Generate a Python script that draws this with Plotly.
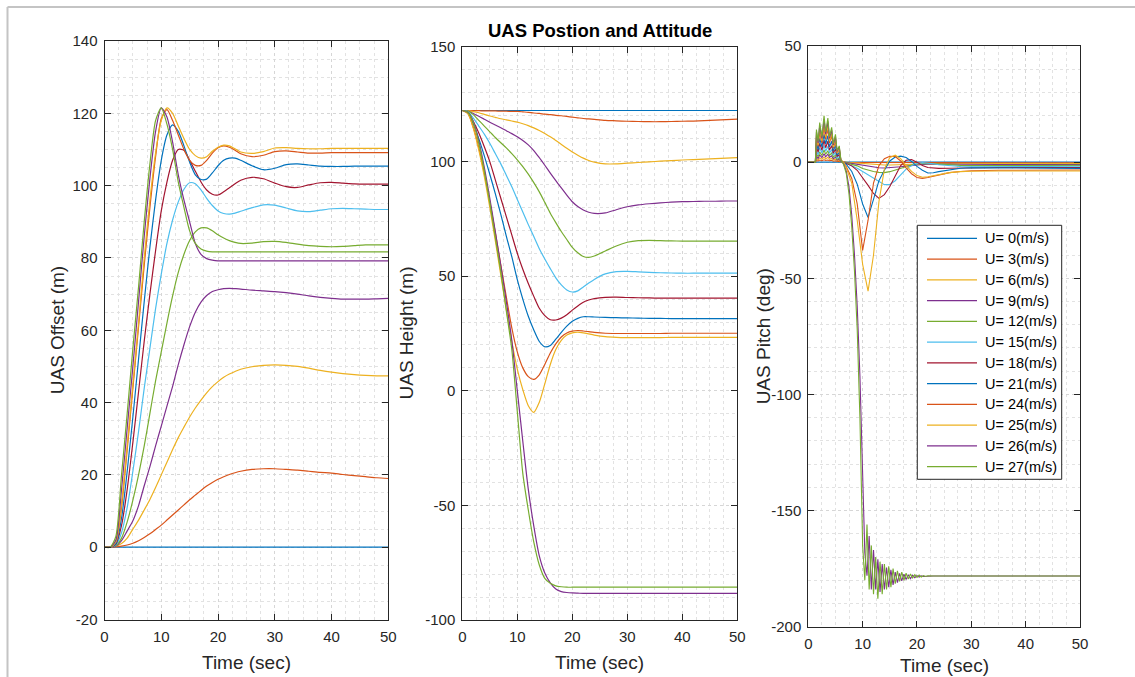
import plotly.graph_objects as go

# ---------------- data ----------------
LABELS = ["U= 0(m/s)", "U= 3(m/s)", "U= 6(m/s)", "U= 9(m/s)", "U= 12(m/s)", "U= 15(m/s)",
          "U= 18(m/s)", "U= 21(m/s)", "U= 24(m/s)", "U= 25(m/s)", "U= 26(m/s)", "U= 27(m/s)"]
COLORS = ["#0072BD", "#D95319", "#EDB120", "#7E2F8E", "#77AC30", "#4DBEEE",
          "#A2142F", "#0072BD", "#D95319", "#EDB120", "#7E2F8E", "#77AC30"]

# tick labels (hyphen minus as in the reference)
X_TICKS = [0, 10, 20, 30, 40, 50]
Y1_TICKS = [-20, 0, 20, 40, 60, 80, 100, 120, 140]
Y2_TICKS = [-100, -50, 0, 50, 100, 150]
Y3_TICKS = [-200, -150, -100, -50, 0, 50]

# time grid for offset / height
T1 = [0, 1, 2, 3, 4, 5, 6, 7, 8, 9, 10, 11, 12, 13, 14, 15, 16, 17, 18, 19, 20, 21, 22, 23, 24,
      26, 28, 30, 32, 34, 36, 38, 40, 42, 44, 46, 48, 50]

# UAS Offset (m)
off_u0 = [0] * 38
off_u3 = [0, 0, 0.1, 0.3, 0.6, 1.1, 1.8, 2.7, 3.7, 4.9, 6.1, 7.5, 8.9, 10.3, 11.7, 13.1, 14.4, 15.7, 16.9, 17.9,
          18.8, 19.5, 20.1, 20.6, 21.0, 21.5, 21.7, 21.7, 21.5, 21.3, 21.0, 20.7, 20.5, 20.1, 19.8, 19.5, 19.2, 19.0]
off_u6 = [0, 0, 0.3, 1.0, 2.5, 5.0, 7.5, 10.3, 13.2, 16.5, 20.0, 23.5, 27.0, 30.3, 33.2, 36.0, 38.5, 40.7, 42.7,
          44.4, 45.8, 47.0, 47.9, 48.6, 49.2, 49.9, 50.3, 50.4, 50.3, 50.0, 49.5, 48.9, 48.4, 48.0, 47.7, 47.5, 47.4, 47.4]
off_u9 = [0, 0, 0.3, 1.8, 4.5, 7.3, 11.5, 17.0, 22.3, 28.0, 33.5, 39.0, 44.5, 50.5, 56.0, 61.0, 65.0, 67.8, 69.6,
          70.7, 71.2, 71.5, 71.6, 71.5, 71.4, 71.1, 70.9, 70.7, 70.4, 70.0, 69.5, 69.1, 68.8, 68.6, 68.6, 68.6, 68.7, 68.8]
off_u12 = [0, 0, 0.4, 2.5, 7, 13, 20, 28, 37, 46, 54, 62, 69.5, 76, 81, 84.8, 87.2, 88.3, 88.3, 87.5, 86.4, 85.5,
           84.8, 84.3, 84.0, 84.1, 84.5, 84.6, 84.3, 83.8, 83.4, 83.2, 83.1, 83.2, 83.4, 83.6, 83.6, 83.6]
off_u15 = [0, 0, 0.6, 4, 11, 21, 32, 44, 55, 66, 75.5, 84, 90.5, 95.5, 99, 100.8, 100.5, 98.8, 96.5, 94.5, 93,
           92.3, 92.1, 92.4, 92.9, 93.9, 94.7, 94.6, 93.8, 93.0, 92.8, 93.2, 93.6, 93.7, 93.6, 93.5, 93.4, 93.4]
off_u18 = [0, 0, 0.8, 6, 16, 29, 43, 57, 70, 82, 93, 101, 107, 110, 109.8, 107, 104, 101, 98.8, 97.6, 97.4, 98.3,
           99.4, 100.5, 101.5, 102.3, 101.9, 100.7, 99.7, 99.5, 100.2, 100.8, 100.9, 100.7, 100.5, 100.4, 100.4, 100.4]
off_u21 = [0, 0, 1, 8, 21, 36, 52, 68, 83, 96, 107, 114, 116.8, 115, 111, 106.5, 103, 101.7, 101.8, 103.5, 105.5,
           107, 107.6, 107.6, 107, 105.5, 104.4, 104.8, 105.8, 106, 105.7, 105.4, 105.3, 105.3, 105.4, 105.4, 105.4, 105.4]
off_u24 = [0, 0, 1.5, 11, 27, 44, 61, 78, 94, 108, 118.5, 121, 118, 114, 110, 107, 105.6, 105.6, 107, 109, 110.5,
           111, 110.6, 109.8, 108.8, 108, 108.4, 109.4, 109.6, 109.3, 109, 109, 109.1, 109.1, 109.1, 109.1, 109.1, 109.1]
off_u25 = [0, 0, 1.5, 12, 28, 45, 62, 80, 96, 109, 118, 121.5, 120, 116.5, 113, 110, 108.3, 107.6, 108, 109.5,
           110.6, 111.2, 111, 110.2, 109.3, 108.9, 109.4, 110.4, 110.5, 110.3, 110.2, 110.2, 110.3, 110.3, 110.3,
           110.3, 110.3, 110.3]
off_u26 = [0, 0, 2, 16, 33, 50, 68, 86, 102, 115, 121.5, 119, 112, 103, 96, 90, 84, 81, 79.8, 79.4, 79.2,
           79.2, 79.2, 79.2, 79.2, 79.2, 79.2, 79.2, 79.2, 79.2, 79.2, 79.2, 79.2, 79.2, 79.2, 79.2, 79.2, 79.2]
off_u27 = [0, 0, 3, 20, 37, 55, 72, 90, 106, 118, 121.5, 117, 110, 101, 94, 87.5, 84, 82.5, 81.9, 81.7, 81.7,
           81.7, 81.7, 81.7, 81.7, 81.7, 81.7, 81.7, 81.7, 81.7, 81.7, 81.7, 81.7, 81.7, 81.7, 81.7, 81.7, 81.7]

# UAS Height (m)
h_u0 = [122.3] * 38
h_u3 = [122.3, 122.3, 122.2, 122.2, 122.1, 122.1, 122.1, 122, 122, 121.9, 121.9, 121.7, 121.5, 121.2, 121, 120.7,
        120.5, 120.2, 120, 119.7, 119.4, 119.1, 118.8, 118.6, 118.4, 118.0, 117.8, 117.6, 117.5, 117.4, 117.4,
        117.5, 117.6, 117.7, 117.9, 118.1, 118.3, 118.5]
h_u6 = [122.3, 122.2, 121.8, 121.3, 120.6, 119.9, 119.3, 118.7, 118.2, 117.7, 117.2, 116.5, 115.7, 114.7, 113.6,
        112.3, 110.8, 109.2, 107.5, 105.8, 104.2, 102.8, 101.5, 100.5, 99.8, 99.0, 99.0, 99.3, 99.6, 99.9, 100.2,
        100.4, 100.7, 100.9, 101.1, 101.3, 101.5, 101.7]
h_u9 = [122.3, 122, 121, 119.8, 118.5, 117.2, 116, 114.8, 113.5, 112.2, 110.8, 109.2, 107.3, 104.8, 101.7, 98.4,
        95, 91.7, 88.5, 85.4, 82.5, 80.4, 78.9, 77.9, 77.4, 77.6, 79, 80.3, 81.1, 81.6, 82.0, 82.3, 82.5, 82.6,
        82.7, 82.7, 82.8, 82.8]
h_u12 = [122.3, 122, 120.5, 118, 115.5, 113, 110.5, 108.2, 106, 103.5, 100.8, 97.8, 94.5, 90.8, 86.8, 82.2, 77.5,
         73.4, 69.5, 66, 62.6, 60.2, 58.6, 58.2, 58.8, 61, 63.2, 64.8, 65.5, 65.6, 65.5, 65.4, 65.3, 65.3, 65.3,
         65.3, 65.3, 65.3]
h_u15 = [122.3, 121.8, 119, 115.5, 112, 108, 103.5, 99, 94, 89, 83.5, 78, 72.5, 67.3, 62, 57.5, 53.3, 49.3, 46.2,
         44, 43.1, 43.6, 45.3, 47, 48.6, 51, 52, 52.1, 51.9, 51.7, 51.5, 51.4, 51.3, 51.3, 51.3, 51.3, 51.3, 51.3]
h_u18 = [122.3, 121.5, 117.5, 112.5, 106.5, 100, 92, 84, 76, 68, 60, 53, 46.8, 41.2, 36, 32.8, 31, 30.9, 31.7,
         33.2, 35.2, 37, 38.6, 39.6, 40.2, 40.8, 40.9, 40.7, 40.6, 40.5, 40.4, 40.4, 40.4, 40.4, 40.4, 40.4, 40.4, 40.4]
h_u21 = [122.3, 121.2, 116.5, 110, 102.5, 94.5, 86, 77, 67.5, 58.5, 48.5, 40, 32.5, 26.5, 21.5, 19.2, 19.8, 22.5,
         25.5, 28.2, 30.3, 31.6, 32.3, 32.3, 32.2, 32, 31.9, 31.8, 31.7, 31.6, 31.6, 31.5, 31.5, 31.5, 31.5, 31.5,
         31.5, 31.5]
h_u24 = [122.3, 121, 115, 106, 95, 82.5, 69, 55, 41, 27.5, 17, 10, 6.2, 5, 7, 11.5, 16.5, 20.5, 23.5, 25.2, 26,
         26.3, 26.1, 25.8, 25.5, 25.1, 25, 25, 25, 25, 25, 25.1, 25.1, 25.1, 25.1, 25.1, 25.1, 25.1]
h_u25 = [122.3, 121, 114.5, 105, 93.5, 80, 65.5, 50.5, 35.5, 21.5, 9.5, 0.5, -6.5, -9.4, -5, 3, 11.5, 18, 22, 24.3,
         25.3, 25.6, 25.3, 24.8, 24.3, 23.6, 23.3, 23.2, 23.2, 23.2, 23.2, 23.3, 23.3, 23.3, 23.3, 23.3, 23.3, 23.3]
h_u26 = [122.3, 121.5, 117.5, 109, 97.5, 84, 69.5, 54.5, 39, 22, 0, -22, -43, -59, -72, -79.5, -83.8, -86.5, -87.6,
         -88, -88.2, -88.3, -88.4, -88.4, -88.4, -88.4, -88.4, -88.4, -88.4, -88.4, -88.4, -88.4, -88.4, -88.4,
         -88.4, -88.4, -88.4, -88.4]
h_u27 = [122.3, 121.5, 117, 108, 96, 82, 67, 52, 35, 18, -9, -36, -52, -66, -76, -81.8, -84, -85.1, -85.5, -85.7,
         -85.7, -85.7, -85.7, -85.7, -85.7, -85.7, -85.7, -85.7, -85.7, -85.7, -85.7, -85.7, -85.7, -85.7, -85.7,
         -85.7, -85.7, -85.7]

# UAS Pitch (deg) -- time grid for U = 0..25
TP = [0, 1.3, 1.5, 1.8, 2.1, 2.5, 2.9, 3.2, 3.6, 3.9, 4.3, 4.6, 5.0, 5.3, 5.7, 6.0,
      6.5, 7, 8, 9, 10, 11, 12, 13, 14, 15, 16, 17, 18, 19, 20, 21, 22, 23, 24, 26, 28, 30, 35, 40, 45, 50]
p_u0 = [0] * 42
p_u3 = [0, 0, 0.7, 0.5, 0.9, 0.6, 1.0, 0.7, 0.9, 0.6, 0.8, 0.4, 0.6, 0.3, 0.3, 0.1,
        0, -0.1, -0.1, -0.2, -0.2, -0.3, -0.3, -0.4, -0.4, -0.4, -0.4, -0.4, -0.4, -0.3, -0.3, -0.3, -0.3, -0.3,
        -0.3, -0.3, -0.3, -0.3, -0.3, -0.3, -0.3, -0.3]
p_u6 = [0, 0, 1.5, 1.0, 1.9, 1.2, 2.2, 1.4, 2.1, 1.2, 1.6, 0.9, 1.3, 0.6, 0.8, 0.1,
        0, -0.1, -0.2, -0.4, -0.6, -0.8, -1.0, -1.2, -1.2, -1.2, -1.1, -1.0, -0.9, -0.8, -0.7, -0.6, -0.6, -0.6,
        -0.6, -0.6, -0.6, -0.6, -0.6, -0.6, -0.6, -0.6]
p_u9 = [0, 0, 2.5, 1.6, 3.1, 2.0, 3.6, 2.3, 3.4, 2.0, 2.7, 1.4, 2.2, 0.9, 1.3, 0.2,
        0, -0.2, -0.5, -1.0, -1.4, -1.8, -2.1, -2.4, -2.5, -2.4, -2.2, -2.0, -1.7, -1.4, -1.2, -1.0, -0.9, -0.8,
        -0.8, -0.8, -0.9, -1.0, -1.0, -1.0, -1.0, -1.0]
p_u12 = [0, 0, 3.6, 2.3, 4.4, 2.9, 5.2, 3.4, 4.9, 2.9, 3.9, 2.1, 3.1, 1.3, 1.8, 0.3,
         0, -0.3, -0.8, -1.6, -2.7, -3.4, -4.0, -4.4, -4.5, -4.1, -3.4, -2.5, -1.8, -1.2, -0.8, -0.6, -0.6, -0.7,
         -0.9, -1.2, -1.4, -1.5, -1.5, -1.4, -1.4, -1.4]
p_u15 = [0, 0, 5.0, 3.2, 6.1, 4.0, 7.2, 4.7, 6.8, 4.0, 5.4, 2.9, 4.3, 1.8, 2.5, 0.4,
         0, -0.5, -1.3, -2.6, -4.0, -5.5, -7.0, -8.5, -9.7, -9.6, -8, -5.5, -3, -1.5, -0.6, -0.2, -0.3, -0.7,
         -1.1, -1.6, -1.9, -2.0, -1.9, -1.8, -1.8, -1.8]
p_u18 = [0, 0, 6.6, 4.3, 8.1, 5.2, 9.5, 6.2, 9.0, 5.2, 7.1, 3.8, 5.7, 2.4, 3.3, 0.5,
         0, -0.6, -1.6, -3.5, -6.5, -10, -13.5, -15.6, -14, -10.5, -6, -1.5, 0.8, 1.1, 0, -1.5, -2.3, -2.6,
         -2.7, -2.6, -2.5, -2.4, -2.3, -2.3, -2.3, -2.3]
p_u21 = [0, 0, 8.4, 5.4, 10.2, 6.6, 12, 7.8, 11.4, 6.6, 9, 4.8, 7.2, 3, 4.2, 0.6,
         0, -1, -4, -9.5, -18, -23.8, -16, -8, -3.5, 0.5, 2.2, 2.6, 2.0, 0.3, -1.8, -3.5, -4.7, -4.6,
         -4.1, -3.2, -2.6, -2.4, -2.5, -2.7, -2.7, -2.7]
p_u24 = [0, 0, 10.5, 6.8, 12.8, 8.3, 15, 9.8, 14.3, 8.3, 11.3, 6, 9, 3.8, 5.3, 0.8,
         0, -2, -7, -18, -38, -25, -9, -1.5, 1.5, 2.5, 2.4, 0.5, -2.5, -5, -6.6, -7, -6.6, -6,
         -5.4, -4.5, -4, -3.7, -3.5, -3.4, -3.4, -3.4]
p_u25 = [0, 0, 11.6, 7.4, 14, 9.1, 16.5, 10.7, 15.7, 9.1, 12.4, 6.6, 9.9, 4.1, 5.8, 0.8,
         0, -2.5, -9, -25, -44, -55.5, -40, -17, -3, 2, 3, 1.5, -1.5, -4, -5.8, -6.5, -6.3, -5.8,
         -5.2, -4.5, -4.1, -3.9, -3.8, -3.8, -3.8, -3.8]

# UAS Pitch (deg) -- finer time grid for U = 26, 27
TPF = [0, 1.3, 1.5, 1.8, 2.1, 2.5, 2.9, 3.2, 3.6, 3.9, 4.3, 4.6, 5.0, 5.3, 5.7, 6.0,
       6.5, 7, 7.5, 8, 8.5, 9, 9.5, 10, 10.4, 10.8, 11.2, 11.6, 12.0, 12.4, 12.8, 13.2, 13.6, 14.0, 14.4,
       14.8, 15.2, 15.6, 16.0, 16.4, 16.8, 17.2, 17.6, 18.0, 18.4, 18.8, 19.2, 19.6, 20.0, 20.4, 20.8,
       21.2, 21.6, 22.0, 23, 25, 30, 40, 50]
p_u26 = [0, 0, 13, 8.3, 15.7, 10.2, 18.5, 12, 17.6, 10.2, 13.9, 7.4, 11.1, 4.6, 6.5, 0.9,
         -0.8, -4, -11, -23, -40, -62, -92, -135, -168, -178, -161, -184, -167, -184, -171, -185, -173, -184,
         -174.5, -183, -175.5, -182, -176.5, -181, -177, -180.3, -177.4, -179.7, -177.6, -179.3, -177.8,
         -178.9, -178, -178.6, -178.1, -178.4, -178.2, -178.3, -178.2, -178.2, -178.2, -178.2, -178.2]
p_u27 = [0, 0, 14, 9, 17, 11, 20, 13, 19, 11, 15, 8, 12, 5, 7, 1,
         -1, -5, -14, -28, -47, -72, -110, -165, -180, -156, -184, -165, -186, -170, -188, -172, -186, -173,
         -184, -174, -183, -175, -181.5, -176, -180.5, -176.5, -180, -177, -179.5, -177.3, -179, -177.6,
         -178.8, -177.8, -178.6, -178, -178.4, -178.1, -178.2, -178.2, -178.2, -178.2, -178.2]

OFFSET = [off_u0, off_u3, off_u6, off_u9, off_u12, off_u15, off_u18, off_u21, off_u24, off_u25, off_u26, off_u27]
HEIGHT = [h_u0, h_u3, h_u6, h_u9, h_u12, h_u15, h_u18, h_u21, h_u24, h_u25, h_u26, h_u27]
PITCH = [p_u0, p_u3, p_u6, p_u9, p_u12, p_u15, p_u18, p_u21, p_u24, p_u25, p_u26, p_u27]
PITCH_T = [TP] * 10 + [TPF, TPF]

# ---------------- figure ----------------
W, H = 1135, 677
FONT = "Liberation Sans, Arial, Helvetica, sans-serif"
INK = "#262626"
GRID = "#d6d6d6"
GRID_MINOR = "#e2e2e2"

fig = go.Figure()
for i in range(12):
    fig.add_trace(go.Scatter(x=T1, y=OFFSET[i], mode="lines", name=LABELS[i], xaxis="x", yaxis="y",
                             line=dict(color=COLORS[i], width=1.2, shape="spline", smoothing=0.7),
                             showlegend=False))
for i in range(12):
    fig.add_trace(go.Scatter(x=T1, y=HEIGHT[i], mode="lines", name=LABELS[i], xaxis="x2", yaxis="y2",
                             line=dict(color=COLORS[i], width=1.2, shape="spline", smoothing=0.7),
                             showlegend=False))
for i in range(12):
    fig.add_trace(go.Scatter(x=PITCH_T[i], y=PITCH[i], mode="lines", name=LABELS[i], xaxis="x3", yaxis="y3",
                             line=dict(color=COLORS[i], width=1.1),
                             showlegend=False))


def px_x(v):
    return v / W


def px_y(v):
    return 1 - v / H


def axis(rng, ticks, minor_dtick, dom, anchor):
    return dict(range=rng, tickmode="array", tickvals=ticks, ticktext=[str(t) for t in ticks],
                domain=dom, anchor=anchor, automargin=False,
                ticks="inside", ticklen=6, tickwidth=1, tickcolor=INK, ticklabelstandoff=3,
                showline=True, linecolor=INK, linewidth=1, mirror="allticks",
                showgrid=True, gridcolor=GRID, griddash="dot", gridwidth=1,
                zeroline=False, tickfont=dict(family=FONT, size=15, color=INK),
                minor=dict(dtick=minor_dtick, tick0=0, showgrid=True, gridcolor=GRID_MINOR,
                           griddash="dot", gridwidth=1, ticks=""))


# plot boxes in pixels: (left, right, top, bottom)
B1 = (104.5, 388.3, 41, 619.5)
B2 = (462.3, 737.3, 47, 620)
B3 = (808.3, 1080, 46, 626.7)

layout = dict(
    width=W, height=H, margin=dict(l=0, r=0, t=0, b=0, autoexpand=False),
    paper_bgcolor="white", plot_bgcolor="white", showlegend=False,
    font=dict(family=FONT, color=INK),
    xaxis=axis([0, 50], X_TICKS, 2.5, [px_x(B1[0]), px_x(B1[1])], "y"),
    yaxis=axis([-20, 140], Y1_TICKS, 5, [px_y(B1[3]), px_y(B1[2])], "x"),
    xaxis2=axis([0, 50], X_TICKS, 2.5, [px_x(B2[0]), px_x(B2[1])], "y2"),
    yaxis2=axis([-100, 150], Y2_TICKS, 10, [px_y(B2[3]), px_y(B2[2])], "x2"),
    xaxis3=axis([0, 50], X_TICKS, 2.5, [px_x(B3[0]), px_x(B3[1])], "y3"),
    yaxis3=axis([-200, 50], Y3_TICKS, 10, [px_y(B3[3]), px_y(B3[2])], "x3"),
)
fig.update_layout(**layout)

ann = []
shapes = []
# title
ann.append(dict(text="<b>UAS Postion and Attitude</b>", x=px_x(600), y=px_y(31), xref="paper", yref="paper",
                showarrow=False, font=dict(family=FONT, size=18.5, color="black"), xanchor="center",
                yanchor="middle"))
# axis titles
for (xc, yc, txt, ang) in [((B1[0] + B1[1]) / 2, 662, "Time (sec)", 0),
                           ((B2[0] + B2[1]) / 2, 662, "Time (sec)", 0),
                           ((B3[0] + B3[1]) / 2, 665, "Time (sec)", 0),
                           (57, (B1[2] + B1[3]) / 2, "UAS Offset (m)", -90),
                           (406, (B2[2] + B2[3]) / 2, "UAS Height (m)", -90),
                           (763, (B3[2] + B3[3]) / 2, "UAS Pitch (deg)", -90)]:
    ann.append(dict(text=txt, x=px_x(xc), y=px_y(yc), xref="paper", yref="paper", showarrow=False,
                    textangle=ang, font=dict(family=FONT, size=19, color=INK),
                    xanchor="center", yanchor="middle"))

# legend (drawn inside the pitch axes)
LX0, LX1, LY0, LY1 = 917.3, 1061.7, 225.3, 479.3
shapes.append(dict(type="rect", xref="paper", yref="paper", x0=px_x(LX0), x1=px_x(LX1), y0=px_y(LY1),
                   y1=px_y(LY0), line=dict(color=INK, width=1), fillcolor="white", layer="above"))
for i in range(12):
    yy = 238.3 + i * 20.76
    shapes.append(dict(type="line", xref="paper", yref="paper", x0=px_x(927), x1=px_x(977), y0=px_y(yy),
                       y1=px_y(yy), line=dict(color=COLORS[i], width=1.2), layer="above"))
    ann.append(dict(text=LABELS[i], x=px_x(983), y=px_y(yy), xref="paper", yref="paper", showarrow=False,
                    xanchor="left", yanchor="middle", font=dict(family=FONT, size=14.5, color="black")))

# outer frame lines
shapes.append(dict(type="line", xref="paper", yref="paper", x0=px_x(7.5), x1=1, y0=px_y(7), y1=px_y(7),
                   line=dict(color="#c4c4c4", width=2)))
shapes.append(dict(type="line", xref="paper", yref="paper", x0=px_x(7.5), x1=px_x(7.5), y0=0, y1=px_y(7),
                   line=dict(color="#c4c4c4", width=2)))

fig.update_layout(annotations=ann, shapes=shapes)
fig.write_html("out.html")
